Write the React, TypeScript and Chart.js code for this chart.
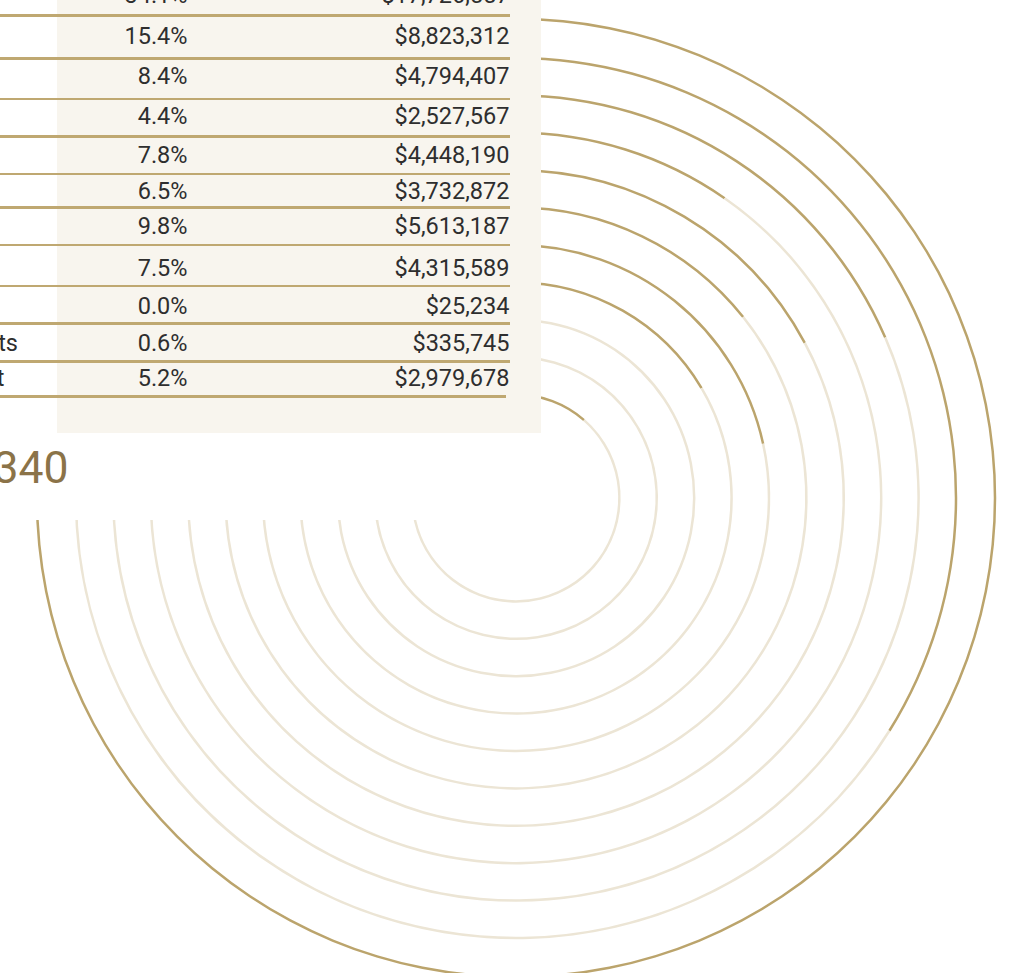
import React, { useEffect, useRef } from "react";
import { Chart, registerables } from "chart.js";

Chart.register(...registerables);

// ---- data ----
const categories = [
  "", "", "", "", "", "", "", "", "",
  "Grants and Contracts",
  "Investment",
];
const percents = [34.1, 15.4, 8.4, 4.4, 7.8, 6.5, 9.8, 7.5, 0.0, 0.6, 5.2];
const amounts = [
  17726557, 8823312, 4794407, 2527567, 4448190, 3732872, 5613187, 4315589,
  25234, 335745, 2979678,
];
const totalLabel = "$55,322,340";

// ---- style / layout ----
const GOLD = "#bba46c";
const TRACK = "#ece5d5";
const PANEL = "#f8f5ee";
const LINE = "#bfa871";
const TEXT = "#2e2e2e";
const TOTAL_COLOR = "#8b7348";
const FONT = "Roboto, 'Open Sans', sans-serif";
const ROW_FONT = 23.5;

const CX = 516;
const CY = 498;
const HALF = 490; // canvas half size
const OUTER_EDGE = 480.25; // outer edge of outermost ring
const INNER_EDGE = 102.15; // inner edge of innermost ring
const RING_W = 2.5;
const GAP_OUTER = 36.5;
const GAP = 34.9;
const MAX_SWEEP = 270; // largest value spans 270 degrees

// table row layout (text centre y and separator line y)
const ROW_TEXT_Y = [-5, 36, 76, 116, 155, 190.5, 226, 267.5, 305.5, 342.7, 377.7];
const ROW_LINE_Y = [15.7, 58.3, 99, 136.7, 174, 207.7, 245, 286, 323.3, 361.3, 396.7];
const LABEL_END_X = [0, 0, 0, 0, 0, 0, 0, 0, 0, 18, 4.5];

function fmtMoney(v: number) {
  return "$" + v.toLocaleString("en-US");
}

function RingChart() {
  const ref = useRef<HTMLCanvasElement | null>(null);
  useEffect(() => {
    if (!ref.current) return;
    const maxPct = Math.max(...percents);
    const fullScale = (maxPct * 360) / MAX_SWEEP;
    const datasets: any[] = [];
    percents.forEach((p, i) => {
      if (i > 0) {
        datasets.push({
          label: "gap" + i,
          data: [1],
          backgroundColor: ["rgba(0,0,0,0)"],
          borderWidth: 0,
          weight: i === 1 ? GAP_OUTER : GAP,
        });
      }
      datasets.push({
        label: categories[i] || "row" + i,
        data: [p, fullScale - p],
        backgroundColor: [GOLD, TRACK],
        borderWidth: 0,
        weight: RING_W,
      });
    });
    const chart = new Chart(ref.current, {
      type: "doughnut",
      data: { labels: ["value", "rest"], datasets },
      options: {
        responsive: false,
        animation: false,
        events: [],
        radius: OUTER_EDGE,
        cutout: (INNER_EDGE / OUTER_EDGE) * 100 + "%",
        rotation: 0,
        circumference: 360,
        layout: { padding: 0 },
        elements: { arc: { borderWidth: 0 } },
        plugins: {
          legend: { display: false },
          tooltip: { enabled: false },
        },
      } as any,
    });
    return () => chart.destroy();
  }, []);
  return (
    <canvas
      ref={ref}
      width={HALF * 2}
      height={HALF * 2}
      style={{
        position: "absolute",
        left: CX - HALF,
        top: CY - HALF,
        width: HALF * 2,
        height: HALF * 2,
        zIndex: 0,
      }}
    />
  );
}

export default function App() {
  const cell = (y: number): React.CSSProperties => ({
    position: "absolute",
    top: y - 16,
    height: 32,
    lineHeight: "32px",
    fontSize: ROW_FONT,
    color: TEXT,
    textAlign: "right",
    whiteSpace: "nowrap",
    zIndex: 3,
  });
  return (
    <div
      style={{
        position: "absolute",
        left: 0,
        top: 0,
        width: 1012,
        height: 973,
        overflow: "hidden",
        background: "#ffffff",
        fontFamily: FONT,
      }}
    >
      <RingChart />
      {/* white cover of the text column */}
      <div
        style={{
          position: "absolute",
          left: 0,
          top: 0,
          width: 541,
          height: 520,
          background: "#ffffff",
          zIndex: 1,
        }}
      />
      {/* table panel */}
      <div
        style={{
          position: "absolute",
          left: 57,
          top: -30,
          width: 484,
          height: 462.7,
          background: PANEL,
          zIndex: 2,
        }}
      />
      {percents.map((p, i) => (
        <React.Fragment key={i}>
          {categories[i] ? (
            <div style={{ ...cell(ROW_TEXT_Y[i]), left: LABEL_END_X[i] - 300, width: 300 }}>
              {categories[i]}
            </div>
          ) : null}
          <div style={{ ...cell(ROW_TEXT_Y[i]), left: 87.5, width: 100 }}>
            {p.toFixed(1) + "%"}
          </div>
          <div style={{ ...cell(ROW_TEXT_Y[i]), left: 309.5, width: 200 }}>
            {fmtMoney(amounts[i])}
          </div>
          <div
            style={{
              position: "absolute",
              left: -10,
              width: i === percents.length - 1 ? 516 : 520,
              top: ROW_LINE_Y[i] - 1.25,
              height: 2.5,
              background: LINE,
              zIndex: 3,
            }}
          />
        </React.Fragment>
      ))}
      <div
        style={{
          position: "absolute",
          left: 68.5 - 400,
          width: 400,
          top: 438,
          height: 60,
          lineHeight: "60px",
          fontSize: 44.5,
          color: TOTAL_COLOR,
          textAlign: "right",
          whiteSpace: "nowrap",
          zIndex: 3,
        }}
      >
        {totalLabel}
      </div>
    </div>
  );
}
